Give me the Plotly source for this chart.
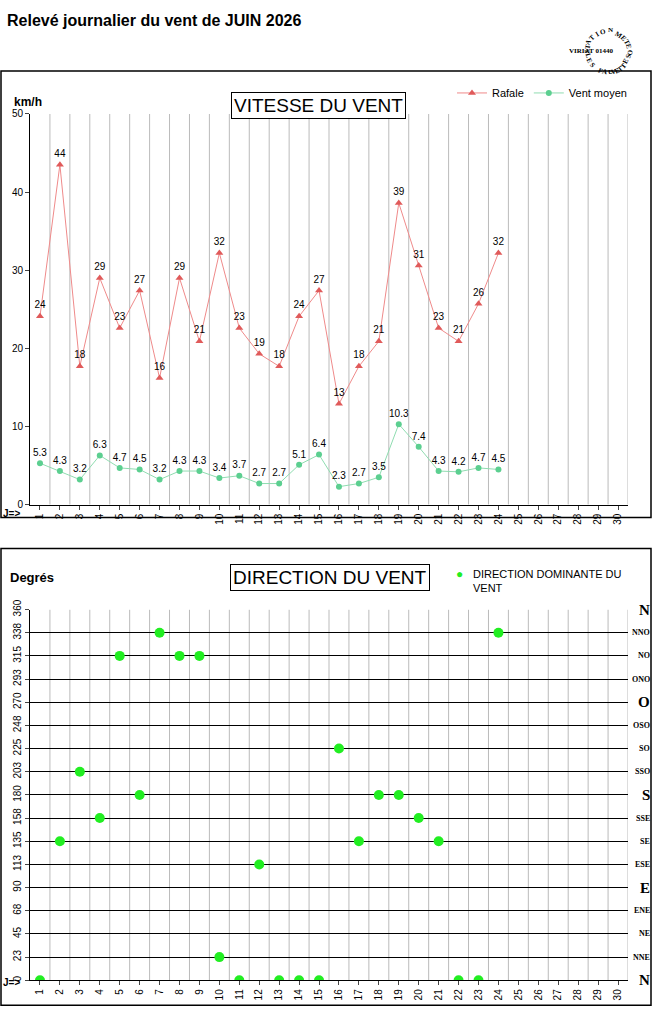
import math
import plotly.graph_objects as go

days = list(range(1, 25))
all_days = [str(d) for d in range(1, 31)]
rafale = [24.1, 43.5, 17.7, 29.0, 22.6, 27.4, 16.2, 29.0, 20.9, 32.2, 22.6, 19.3, 17.7, 24.1, 27.4, 12.9, 17.7, 20.9, 38.6, 30.6, 22.6, 20.9, 25.7, 32.2]
moyen = [5.3, 4.3, 3.2, 6.3, 4.7, 4.5, 3.2, 4.3, 4.3, 3.4, 3.7, 2.7, 2.7, 5.1, 6.4, 2.3, 2.7, 3.5, 10.3, 7.4, 4.3, 4.2, 4.7, 4.5]
direction = [0, 135, 202.5, 157.5, 315, 180, 337.5, 315, 315, 22.5, 0, 112.5, 0, 0, 0, 225, 135, 180, 180, 157.5, 135, 0, 0, 337.5]
deg_vals = [i * 22.5 for i in range(17)]
deg_labels = ["0", "23", "45", "68", "90", "113", "135", "158", "180", "203", "225", "248", "270", "293", "315", "338", "360"]
compass = ["N", "NNE", "NE", "ENE", "E", "ESE", "SE", "SSE", "S", "SSO", "SO", "OSO", "O", "ONO", "NO", "NNO", "N"]
big = {"N", "E", "S", "O"}

W, H = 657, 1018
def py(p):
    d = (p - 9) / 0.986
    return min(1.0, max(0.0, 1 - d / H))
def px(p): return p / W

fig = go.Figure()
fig.add_trace(go.Scatter(x=days, y=rafale, mode="lines+markers+text", name="Rafale",
    line=dict(color="#ef8a8a", width=1), marker=dict(symbol="triangle-up", color="#e05a5a", size=7),
    text=[str(int(v + 0.5)) for v in rafale], textposition="top center", textfont=dict(size=10, color="black"),
    xaxis="x", yaxis="y"))
fig.add_trace(go.Scatter(x=days, y=moyen, mode="lines+markers+text", name="Vent moyen",
    line=dict(color="#8fdcb0", width=1), marker=dict(symbol="circle", color="#5ccf90", size=6),
    text=[f"{v:.1f}" for v in moyen], textposition="top center", textfont=dict(size=10, color="black"),
    xaxis="x", yaxis="y"))
fig.add_trace(go.Scatter(x=days, y=direction, mode="markers", name="DIRECTION DOMINANTE DU VENT",
    marker=dict(color="#22ee22", size=10), xaxis="x2", yaxis="y2", showlegend=False))

xd = [px(30), px(628)]
fig.update_layout(
    width=W, height=H, margin=dict(l=0, r=0, t=0, b=0), paper_bgcolor="white", plot_bgcolor="white",
    font=dict(family="Liberation Sans, Arial", size=11, color="black"),
    showlegend=True,
    legend=dict(orientation="h", x=px(452), y=py(92), xanchor="left", yanchor="middle", font=dict(size=11),
                bgcolor="rgba(0,0,0,0)", itemwidth=30, tracegroupgap=0),
    xaxis=dict(domain=xd, anchor="y", range=[0.5, 30.5], tickmode="array", tickvals=list(range(1, 31)), ticktext=all_days,
               tickangle=-90, showgrid=False, showline=True, linecolor="black", ticks="outside", ticklen=4, tickfont=dict(size=10)),
    yaxis=dict(domain=[py(504), py(113)], range=[0, 50], dtick=10, showgrid=False, showline=True, linecolor="black",
               ticks="outside", ticklen=4, tickfont=dict(size=10), zeroline=False),
    xaxis2=dict(domain=xd, anchor="y2", range=[0.5, 30.5], tickmode="array", tickvals=list(range(1, 31)), ticktext=all_days,
                tickangle=-90, showgrid=False, showline=True, linecolor="black", ticks="outside", ticklen=4, tickfont=dict(size=10)),
    yaxis2=dict(domain=[py(980), py(609)], range=[0, 360], tickmode="array", tickvals=deg_vals, ticktext=deg_labels,
                tickangle=-90, showgrid=True, gridcolor="black", gridwidth=1, showline=True, linecolor="black",
                ticks="outside", ticklen=4, tickfont=dict(size=10), zeroline=False),
)

shapes = []
for i in range(1, 31):
    xb = i + 0.5
    shapes.append(dict(type="line", xref="x", yref="y", x0=xb, x1=xb, y0=0, y1=50, line=dict(color="#bbbbbb", width=1), layer="below"))
    shapes.append(dict(type="line", xref="x2", yref="y2", x0=xb, x1=xb, y0=0, y1=360, line=dict(color="#bbbbbb", width=1), layer="below"))
shapes.append(dict(type="rect", xref="paper", yref="paper", x0=px(1), x1=px(651), y0=py(517), y1=py(70), line=dict(color="black", width=1.5)))
shapes.append(dict(type="rect", xref="paper", yref="paper", x0=px(1), x1=px(651), y0=py(1005), y1=py(548), line=dict(color="black", width=1.5)))
fig.update_layout(shapes=shapes)

ann = [
    dict(text="<b>Relevé journalier du vent de JUIN 2026</b>", x=px(5), y=py(20), xanchor="left", yanchor="middle", font=dict(size=16)),
    dict(text="VITESSE DU VENT", x=px(318), y=py(91), font=dict(size=19), bordercolor="black", borderwidth=1, borderpad=2, bgcolor="white"),
    dict(text="DIRECTION DU VENT", x=px(330), y=py(577), font=dict(size=19), bordercolor="black", borderwidth=1, borderpad=2, bgcolor="white"),
    dict(text="<b>km/h</b>", x=px(12), y=py(92), xanchor="left", font=dict(size=12)),
    dict(text="<b>Degrés</b>", x=px(8), y=py(577), xanchor="left", font=dict(size=13)),
    dict(text="<b>J=></b>", x=px(1), y=py(513), xanchor="left", font=dict(size=10)),
    dict(text="<b>J=></b>", x=px(1), y=py(990), xanchor="left", font=dict(size=10)),
    dict(text="●", x=px(465), y=py(573), font=dict(size=12, color="#22ee22")),
    dict(text="DIRECTION DOMINANTE DU<br>VENT", x=px(471), y=py(580), xanchor="left", align="left", font=dict(size=11)),
    dict(text="<b>VIRIAT 01440</b>", x=px(615), y=py(44), font=dict(size=7, family="Liberation Serif")),
]
cx, cy, r = 615, 44, 21
def arc(txt, a0, a1, top):
    n = len(txt)
    for k, ch in enumerate(txt):
        a = math.radians(a0 + (a1 - a0) * k / (n - 1))
        x = cx + r * math.cos(a); y = cy - r * math.sin(a)
        rot = 90 - math.degrees(a) if top else -90 - math.degrees(a)
        ann.append(dict(text=f"<b>{ch}</b>", x=px(x), y=py(y), textangle=rot,
                        font=dict(size=7, family="Liberation Serif")))
arc("STATION METEO", 185, -5, True)
arc("LES FAUVETTES", 195, 345, False)

for v, c in zip(deg_vals, compass):
    ann.append(dict(text=f"<b>{c}</b>", x=px(652), y=v, xref="paper", yref="y2", xanchor="right",
                    font=dict(family="Liberation Serif", size=15 if c in big else 8)))
for a in ann:
    a.setdefault("xref", "paper"); a.setdefault("yref", "paper"); a.setdefault("showarrow", False)
fig.update_layout(annotations=ann)

fig.write_html("out.html", config={"displayModeBar": False},
               post_script="document.body.style.margin='0';document.body.style.overflow='hidden';")
